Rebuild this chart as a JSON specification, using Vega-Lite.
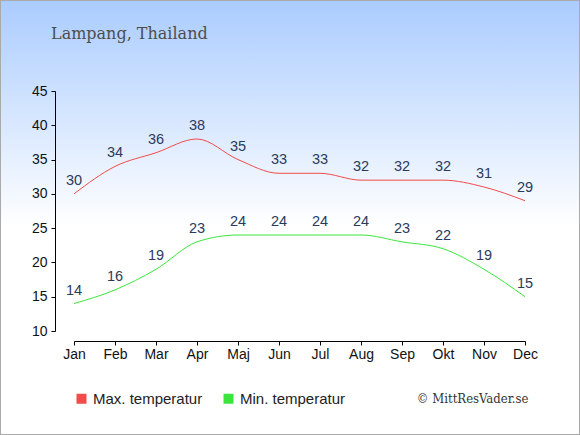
{
  "$schema": "https://vega.github.io/schema/vega-lite/v6.json",
  "width": 580,
  "height": 435,
  "autosize": "none",
  "padding": 0,
  "title": {
    "text": "Lampang, Thailand",
    "anchor": "start",
    "frame": "group",
    "dx": 51,
    "offset": -42,
    "font": "DejaVu Serif",
    "fontSize": 16,
    "fontWeight": "normal",
    "color": "#4d4d4d"
  },
  "data": {
    "values": [
      {"month": "Jan", "serie": "Max. temperatur", "temp": 30},
      {"month": "Feb", "serie": "Max. temperatur", "temp": 34},
      {"month": "Mar", "serie": "Max. temperatur", "temp": 36},
      {"month": "Apr", "serie": "Max. temperatur", "temp": 38},
      {"month": "Maj", "serie": "Max. temperatur", "temp": 35},
      {"month": "Jun", "serie": "Max. temperatur", "temp": 33},
      {"month": "Jul", "serie": "Max. temperatur", "temp": 33},
      {"month": "Aug", "serie": "Max. temperatur", "temp": 32},
      {"month": "Sep", "serie": "Max. temperatur", "temp": 32},
      {"month": "Okt", "serie": "Max. temperatur", "temp": 32},
      {"month": "Nov", "serie": "Max. temperatur", "temp": 31},
      {"month": "Dec", "serie": "Max. temperatur", "temp": 29},
      {"month": "Jan", "serie": "Min. temperatur", "temp": 14},
      {"month": "Feb", "serie": "Min. temperatur", "temp": 16},
      {"month": "Mar", "serie": "Min. temperatur", "temp": 19},
      {"month": "Apr", "serie": "Min. temperatur", "temp": 23},
      {"month": "Maj", "serie": "Min. temperatur", "temp": 24},
      {"month": "Jun", "serie": "Min. temperatur", "temp": 24},
      {"month": "Jul", "serie": "Min. temperatur", "temp": 24},
      {"month": "Aug", "serie": "Min. temperatur", "temp": 24},
      {"month": "Sep", "serie": "Min. temperatur", "temp": 23},
      {"month": "Okt", "serie": "Min. temperatur", "temp": 22},
      {"month": "Nov", "serie": "Min. temperatur", "temp": 19},
      {"month": "Dec", "serie": "Min. temperatur", "temp": 15}
    ]
  },
  "encoding": {
    "x": {
      "field": "month",
      "type": "ordinal",
      "sort": null,
      "scale": {"type": "point", "padding": 0, "range": [74, 525]},
      "axis": {
        "orient": "bottom",
        "offset": -94,
        "labelAngle": 0,
        "labelFontSize": 14,
        "labelColor": "#111111",
        "labelPadding": 2,
        "tickSize": 4,
        "tickColor": "#000000",
        "domainColor": "#000000",
        "title": "© MittResVader.se",
        "titleX": 528,
        "titleY": 61,
        "titleAlign": "right",
        "titleAnchor": null,
        "titleBaseline": "alphabetic",
        "titleFont": "DejaVu Serif Condensed, Liberation Serif",
        "titleFontSize": 13,
        "titleFontWeight": "normal",
        "titleColor": "#333333"
      }
    },
    "y": {
      "field": "temp",
      "type": "quantitative",
      "scale": {"domain": [10, 45], "range": [331, 91], "nice": false, "zero": false},
      "axis": {
        "orient": "left",
        "offset": -55,
        "values": [10, 15, 20, 25, 30, 35, 40, 45],
        "grid": false,
        "title": null,
        "labelFontSize": 14,
        "labelColor": "#111111",
        "labelPadding": 4,
        "tickSize": 4,
        "tickColor": "#000000",
        "domainColor": "#000000"
      }
    },
    "color": {
      "field": "serie",
      "type": "nominal",
      "scale": {"domain": ["Max. temperatur", "Min. temperatur"], "range": ["#f24b4b", "#3be53b"]},
      "legend": {
        "title": null,
        "orient": "none",
        "legendX": 74,
        "legendY": 391,
        "direction": "horizontal",
        "symbolType": "square",
        "symbolSize": 100,
        "symbolStrokeWidth": 0,
        "labelFontSize": 15,
        "labelColor": "#222222",
        "labelOffset": 4,
        "columnPadding": 18,
        "padding": 0,
        "encode": {
          "symbols": {
            "update": {
              "fill": {"scale": "color", "field": "value"},
              "stroke": {"value": "transparent"}
            }
          }
        }
      }
    }
  },
  "layer": [
    {
      "mark": {"type": "line", "interpolate": "monotone", "strokeWidth": 1}
    },
    {
      "mark": {"type": "text", "dy": -9, "baseline": "alphabetic", "align": "center", "fontSize": 14.5, "color": "#2b3a5c"},
      "encoding": {
        "text": {"field": "temp", "type": "quantitative"},
        "color": {"value": "#2b3a5c"}
      }
    }
  ],
  "config": {
    "font": "Liberation Sans",
    "view": {
      "fill": {
        "gradient": "linear",
        "x1": 0, "y1": 0, "x2": 0, "y2": 1,
        "stops": [
          {"offset": 0, "color": "#aaccff"},
          {"offset": 0.52, "color": "#ffffff"},
          {"offset": 1, "color": "#ffffff"}
        ]
      },
      "stroke": "#aaaaaa",
      "strokeWidth": 2
    }
  }
}
